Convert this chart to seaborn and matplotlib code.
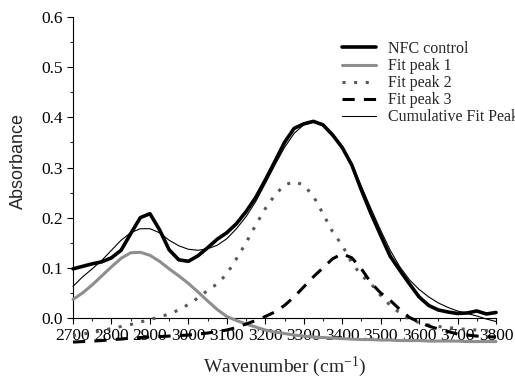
import matplotlib
matplotlib.use("Agg")
import matplotlib.pyplot as plt
import seaborn as sns
import pandas as pd

# ---- data ----
wavenumber = [2700, 2725, 2750, 2775, 2800, 2825, 2850, 2875, 2900, 2925, 2950, 2975,
              3000, 3025, 3050, 3075, 3100, 3125, 3150, 3175, 3200, 3225, 3250, 3275,
              3300, 3325, 3350, 3375, 3400, 3425, 3450, 3475, 3500, 3525, 3550, 3575,
              3600, 3625, 3650, 3675, 3700, 3725, 3750, 3775, 3800]

nfc_control = [0.098, 0.103, 0.108, 0.112, 0.120, 0.135, 0.168, 0.200, 0.208, 0.176, 0.136, 0.116,
               0.113, 0.124, 0.140, 0.157, 0.170, 0.188, 0.212, 0.240, 0.275, 0.312, 0.350, 0.378,
               0.387, 0.392, 0.385, 0.365, 0.340, 0.305, 0.255, 0.208, 0.165, 0.123, 0.095, 0.068,
               0.042, 0.025, 0.016, 0.012, 0.009, 0.010, 0.014, 0.008, 0.011]

fit_peak1 = [0.037, 0.050, 0.066, 0.084, 0.102, 0.119, 0.130, 0.131, 0.125, 0.113, 0.098, 0.084,
             0.069, 0.052, 0.034, 0.017, 0.003, -0.005, -0.012, -0.018, -0.024, -0.028, -0.031, -0.034,
             -0.036, -0.038, -0.039, -0.040, -0.041, -0.042, -0.043, -0.043, -0.044, -0.044, -0.045, -0.045,
             -0.045, -0.046, -0.046, -0.046, -0.046, -0.047, -0.047, -0.047, -0.047]

fit_peak2 = [-0.035, -0.032, -0.029, -0.025, -0.021, -0.017, -0.013, -0.008, -0.003, 0.002, 0.008, 0.016,
             0.027, 0.040, 0.055, 0.068, 0.088, 0.118, 0.150, 0.185, 0.218, 0.245, 0.265, 0.272,
             0.265, 0.243, 0.208, 0.172, 0.145, 0.110, 0.085, 0.068, 0.045, 0.025, 0.010, -0.003,
             -0.009, -0.014, -0.017, -0.019, -0.021, -0.023, -0.024, -0.025, -0.026]

fit_peak3 = [-0.048, -0.047, -0.046, -0.045, -0.043, -0.042, -0.040, -0.039, -0.038, -0.037, -0.036, -0.035,
             -0.034, -0.032, -0.030, -0.027, -0.024, -0.019, -0.012, -0.005, 0.003, 0.012, 0.025, 0.042,
             0.062, 0.082, 0.100, 0.118, 0.128, 0.120, 0.098, 0.070, 0.050, 0.035, 0.017, 0.001,
             -0.008, -0.016, -0.022, -0.027, -0.032, -0.034, -0.036, -0.037, -0.038]

cumulative_fit = [0.063, 0.082, 0.098, 0.115, 0.135, 0.155, 0.170, 0.178, 0.178, 0.170, 0.155, 0.144,
                  0.137, 0.135, 0.138, 0.145, 0.158, 0.178, 0.202, 0.232, 0.268, 0.305, 0.340, 0.368,
                  0.385, 0.390, 0.385, 0.368, 0.340, 0.305, 0.262, 0.218, 0.175, 0.135, 0.102, 0.076,
                  0.057, 0.042, 0.030, 0.021, 0.014, 0.009, 0.004, -0.002, -0.007]

series_labels = ["NFC control", "Fit peak 1", "Fit peak 2", "Fit peak 3", "Cumulative Fit Peak"]

x_ticks = [2700, 2800, 2900, 3000, 3100, 3200, 3300, 3400, 3500, 3600, 3700, 3800]
y_ticks = [0.0, 0.1, 0.2, 0.3, 0.4, 0.5, 0.6]

# ---- style ----
sns.set_style("ticks")
plt.rcParams["font.family"] = ["Liberation Serif", "DejaVu Serif"]
plt.rcParams["mathtext.fontset"] = "custom"
plt.rcParams["mathtext.rm"] = "Liberation Serif"
plt.rcParams["mathtext.it"] = "Liberation Serif:italic"

fig = plt.figure(figsize=(5.15, 3.81), dpi=100)
ax = fig.add_axes([73 / 515, 63 / 381, (496 - 73) / 515, (318 - 17) / 381])

df = pd.DataFrame({"x": wavenumber, "control": nfc_control, "p1": fit_peak1,
                   "p2": fit_peak2, "p3": fit_peak3, "cum": cumulative_fit})

common = dict(ax=ax, clip_on=False, zorder=3)
sns.lineplot(data=df, x="x", y="control", color="black", linewidth=2.6,
             label=series_labels[0], **common)
sns.lineplot(data=df, x="x", y="p1", color="#8e8e8e", linewidth=2.2,
             label=series_labels[1], **common)
sns.lineplot(data=df, x="x", y="p2", color="#585858", linewidth=2.2,
             linestyle=(0, (1.0, 2.8)), label=series_labels[2], **common)
sns.lineplot(data=df, x="x", y="p3", color="black", linewidth=2.2,
             linestyle=(0, (4.0, 3.0)), label=series_labels[3], **common)
sns.lineplot(data=df, x="x", y="cum", color="black", linewidth=0.8,
             label=series_labels[4], **common)

ax.set_xlim(2700, 3800)
ax.set_ylim(0, 0.6)
ax.set_xticks(x_ticks)
ax.set_yticks(y_ticks)
ax.set_xticks([v + 50 for v in x_ticks[:-1]], minor=True)
ax.set_yticks([v + 0.05 for v in y_ticks[:-1]], minor=True)
ax.set_yticklabels([f"{v:.1f}" for v in y_ticks])
ax.tick_params(axis="both", which="major", direction="out", length=4, width=0.8,
               labelsize=12.5, pad=3, colors="black")
ax.tick_params(axis="both", which="minor", direction="out", length=2.2, width=0.8)
for side in ["top", "right"]:
    ax.spines[side].set_visible(False)
for side in ["left", "bottom"]:
    ax.spines[side].set_linewidth(0.8)
    ax.spines[side].set_color("black")

ax.set_xlabel(r"Wavenumber (cm$^{\mathrm{-1}}$)", fontsize=14, labelpad=8)
ax.set_ylabel("Absorbance", fontsize=13, family=["Liberation Sans", "DejaVu Sans"], labelpad=7)
ax.yaxis.set_label_coords(-0.11, 0.52)

ax.get_legend().remove()
handles, labels = ax.get_legend_handles_labels()
fig.legend(handles, labels, loc="upper left", bbox_to_anchor=(342 / 515, 1 - 41 / 381),
           frameon=False, fontsize=11.5, handlelength=2.1, handletextpad=0.75,
           labelspacing=0.07, borderpad=0, borderaxespad=0)

fig.savefig("out.png", dpi=100)
